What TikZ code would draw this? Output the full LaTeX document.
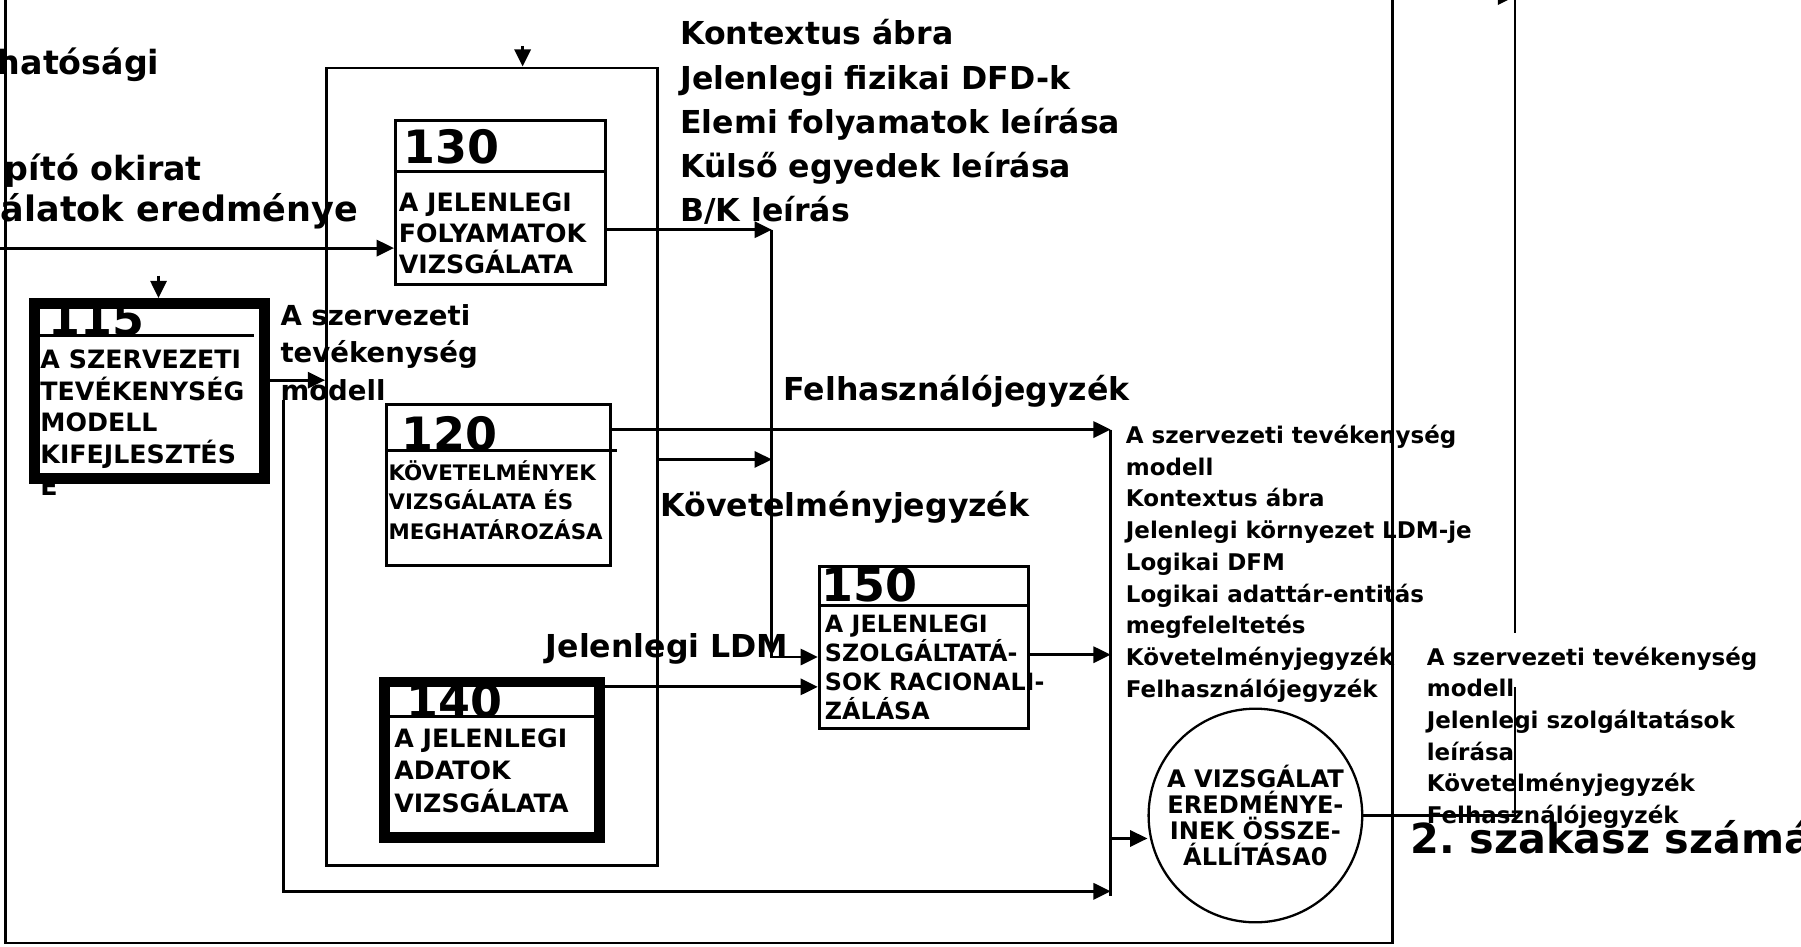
\documentclass[tikz,border=0pt]{standalone}
\usepackage{fontspec}
\setmainfont{DejaVu Sans}
\usetikzlibrary{arrows.meta}

\begin{document}
\begin{tikzpicture}[x=1pt,y=-1pt,line width=2.5pt,
  arr/.style={-{Triangle[length=15pt,width=14pt]}},
  procbox/.style={draw, line width=2.6pt, anchor=north west, inner sep=0pt},
  thickbox/.style={procbox, line width=9.5pt},
  bignum/.style={font=\bfseries\fontsize{40}{40}\selectfont, anchor=base west, inner sep=0pt},
  boxtext/.style={font=\bfseries\fontsize{22}{27.5}\selectfont, anchor=base west, align=left, inner sep=0pt},
  flowlabel/.style={font=\bfseries\fontsize{27.5}{38.5}\selectfont, anchor=base west, align=left, inner sep=0pt},
  listlabel/.style={font=\bfseries\fontsize{20}{27.6}\selectfont, anchor=base west, align=left, inner sep=0pt}]
\useasboundingbox (0,0) rectangle (1568,824);
\draw (5,-12) -- (5,821) -- (1212,821) -- (1212,-12);
\node[procbox, line width=2.5pt, minimum width=288pt, minimum height=694pt] (grp) at (283,58) {};

\node[thickbox, minimum width=200pt, minimum height=152pt] (p115) at (25.5,259.5) {};
\draw (30,292) -- (221,292);
\node[bignum] (n115) at (41,292) {115};
\node[boxtext] (t115) at (34,431) {A SZERVEZETI\\TEVÉKENYSÉG\\MODELL\\KIFEJLESZTÉS\\E};

\node[procbox, minimum width=183pt, minimum height=142pt] (p130) at (343,104) {};
\draw (343,149) -- (527,149);
\node[bignum] (n130) at (350,142) {130};
\node[boxtext, font=\bfseries\fontsize{22}{27}\selectfont] (t130) at (346,238) {A JELENLEGI\\FOLYAMATOK\\VIZSGÁLATA};

\node[procbox, minimum width=195pt, minimum height=140pt] (p120) at (335,351) {};
\draw (335,392) -- (537,392);
\node[bignum] (n120) at (348,392) {120};
\node[boxtext, font=\bfseries\fontsize{18.6}{26}\selectfont] (t120) at (337,470) {KÖVETELMÉNYEK\\VIZSGÁLATA ÉS\\MEGHATÁROZÁSA};

\node[thickbox, minimum width=187pt, minimum height=135pt] (p140) at (330,589) {};
\draw (335,624) -- (524,624);
\node[bignum] (n140) at (353,625) {140};
\node[boxtext, font=\bfseries\fontsize{22}{28}\selectfont] (t140) at (342,707) {A JELENLEGI\\ADATOK\\VIZSGÁLATA};

\node[procbox, minimum width=182pt, minimum height=141pt] (p150) at (712,492) {};
\draw (712,527) -- (896,527);
\node[bignum] (n150) at (714,524) {150};
\node[boxtext, font=\bfseries\fontsize{20.7}{25}\selectfont] (t150) at (717,626) {A JELENLEGI\\SZOLGÁLTATÁ-\\SOK RACIONALI-\\ZÁLÁSA};

\node[draw, circle, line width=2pt, minimum size=186pt, inner sep=0pt] (vizsg) at (1093,710) {};
\node[font=\bfseries\fontsize{21}{22.5}\selectfont, align=center, inner sep=0pt] (tvizsg) at (vizsg) {A VIZSGÁLAT\\EREDMÉNYE-\\INEK ÖSSZE-\\ÁLLÍTÁSA0};

\node[flowlabel] (ctx) at (591,193) {Kontextus ábra\\Jelenlegi fizikai DFD-k\\Elemi folyamatok leírása\\Külső egyedek leírása\\B/K leírás};
\node[flowlabel, anchor=base east, font=\bfseries\fontsize{29}{38.5}\selectfont] (hat) at (140,65) {hatósági};
\node[flowlabel, anchor=base east, font=\bfseries\fontsize{29}{38.5}\selectfont] (alap) at (177,157) {pító okirat};
\node[flowlabel, anchor=base east, font=\bfseries\fontsize{30.5}{38.5}\selectfont] (vizsgl) at (313,193) {álatok eredménye};
\node[flowlabel, font=\bfseries\fontsize{24}{33}\selectfont] (szmod) at (243,349) {A szervezeti\\tevékenység\\modell};
\node[flowlabel] (felh) at (681,349) {Felhasználójegyzék};
\node[flowlabel] (kov) at (574,450) {Követelményjegyzék};
\node[flowlabel] (ldm) at (474,572) {Jelenlegi LDM};
\node[listlabel] (lst) at (979,607) {A szervezeti tevékenység\\modell\\Kontextus ábra\\Jelenlegi környezet LDM-je\\Logikai DFM\\Logikai adattár-entitás\\megfeleltetés\\Követelményjegyzék\\Felhasználójegyzék};
\node[listlabel] (out1) at (1241,579) {A szervezeti tevékenység};
\node[listlabel] (out2) at (1241,717) {modell\\Jelenlegi szolgáltatások\\leírása\\Követelményjegyzék\\Felhasználójegyzék};
\node[flowlabel, font=\bfseries\fontsize{36}{36}\selectfont] (szak) at (1227,743) {2.\ szakasz számá};

\coordinate (dfd) at (672,200);
\coordinate (lsttop) at (967,374);
\coordinate (lstbot) at (967,780);
\coordinate (modl) at (247,348);
\coordinate (grpin) at (455,40);
\coordinate (orgin) at (138,240);
\coordinate (vizsin) at (-5,216);
\coordinate (kvin) at (573,400);
\coordinate (ldmin) at (0,572);
\coordinate (adin) at (0,598);
\coordinate (racout) at (0,570);
\coordinate (cirin) at (0,730);
\coordinate (bot) at (0,776);
\coordinate (szmid) at (1319,598);
\coordinate (sztop) at (1319,551);
\coordinate (rtop) at (1319,-12);

\draw[arr] (grpin) -- (grpin |- grp.north);
\draw[arr] (orgin) -- (orgin |- p115.north);
\draw[arr] (vizsin) -- (vizsin -| p130.west);
\draw[arr] (dfd -| p130.east) -- (dfd);
\draw[arr] (dfd) |- (p150.west |- ldmin);
\draw[arr] (p115.east |- 0,331) -- (grp.west |- 0,331);
\draw[arr] (modl) |- (lsttop |- bot);
\draw[arr] (p120.east |- lsttop) -- (lsttop);
\draw[arr] (kvin) -- (dfd |- kvin);
\draw[arr] (p140.east |- adin) -- (p150.west |- adin);
\draw[arr] (p150.east |- racout) -- (lsttop |- racout);
\draw (lsttop) -- (lstbot);
\draw[arr] (lsttop |- cirin) -- (vizsg.west |- cirin);
\draw (vizsg.east) -| (szmid);
\draw (sztop) -- (rtop);
\draw[arr] (1280,-3) -- (rtop |- 0,-3);
\end{tikzpicture}
\end{document}
